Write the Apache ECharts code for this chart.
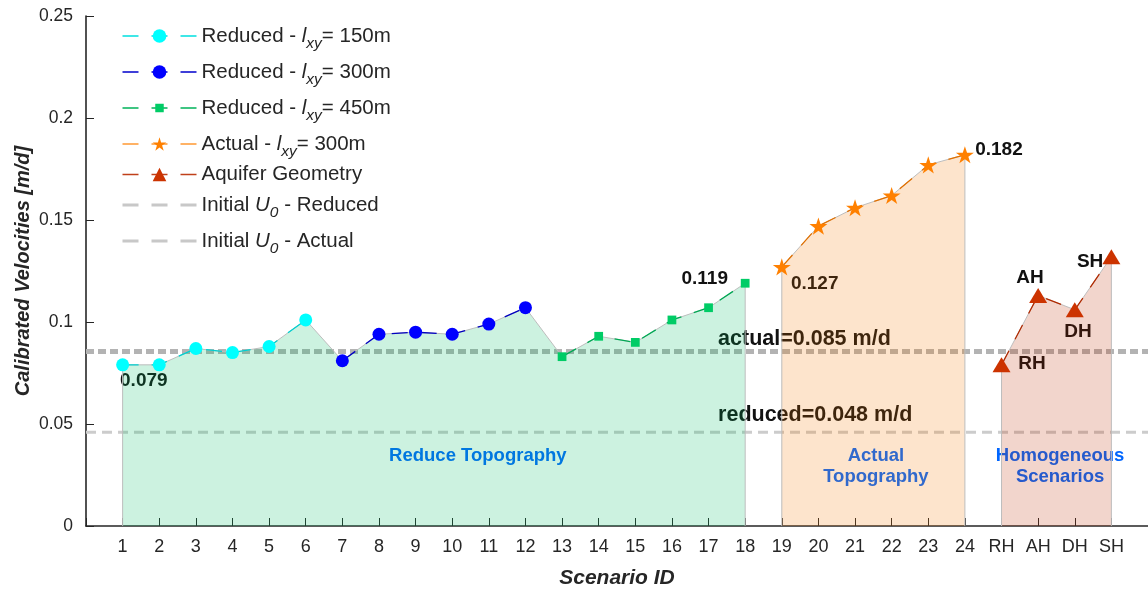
<!DOCTYPE html>
<html><head><meta charset="utf-8">
<script src="https://cdn.jsdelivr.net/npm/echarts@6/dist/echarts.min.js"></script>
<style>html,body{margin:0;padding:0;background:#fff}#c{width:1148px;height:589px}</style>
</head><body><div id="c"></div>
<script>
// ---------- data ----------
const categories = ['1','2','3','4','5','6','7','8','9','10','11','12','13','14','15','16','17','18',
  '19','20','21','22','23','24','RH','AH','DH','SH'];
const reduced150Ids = ['1','2','3','4','5','6'];
const reduced150 = [0.079, 0.079, 0.087, 0.085, 0.088, 0.101];
const reduced300Ids = ['7','8','9','10','11','12'];
const reduced300 = [0.081, 0.094, 0.095, 0.094, 0.099, 0.107];
const reduced450Ids = ['13','14','15','16','17','18'];
const reduced450 = [0.083, 0.093, 0.090, 0.101, 0.107, 0.119];
const actual300Ids = ['19','20','21','22','23','24'];
const actual300 = [0.127, 0.147, 0.156, 0.162, 0.177, 0.182];
const geometryIds = ['RH','AH','DH','SH'];
const geometry = [0.079, 0.113, 0.106, 0.132];
const initialU0Reduced = 0.046;
const initialU0Actual = 0.0855;
const yTicks = [0, 0.05, 0.1, 0.15, 0.2, 0.25];

// ---------- helpers ----------
const pos = id => categories.indexOf(id) + 1;
const pts = (ids, vals) => ids.map((id, i) => [pos(id), vals[i]]);
const areaPts = (ids, vals) => {
  const p = pts(ids, vals);
  return [[p[0][0], 0], ...p, [p[p.length - 1][0], 0]];
};
function starPath() {
  const p = [];
  for (let i = 0; i < 10; i++) {
    const r = i % 2 ? 0.382 : 1;
    const a = -Math.PI / 2 + i * Math.PI / 5;
    p.push((r * Math.cos(a)).toFixed(3) + ',' + (r * Math.sin(a)).toFixed(3));
  }
  return 'path://M' + p.join(' L') + ' Z';
}
const STAR = starPath();
// square with transparent padding so the legend icon stays small
const SQUARE = 'path://M0,0 M16,16 M3,3 L13,3 L13,13 L3,13 Z';
const FONT = '"Liberation Sans", Arial, Helvetica, sans-serif';
const TXT = '#262626';
const DASH = [16, 13];

const N150 = 'Reduced - lxy= 150m', N300 = 'Reduced - lxy= 300m', N450 = 'Reduced - lxy= 450m';
const NACT = 'Actual - lxy= 300m', NGEO = 'Aquifer Geometry';
const NU0R = 'Initial U0 - Reduced', NU0A = 'Initial U0 - Actual';
const legendLabels = {
  [N150]: '{n|Reduced - }{i|l}{s|xy}{n|= 150m}',
  [N300]: '{n|Reduced - }{i|l}{s|xy}{n|= 300m}',
  [N450]: '{n|Reduced - }{i|l}{s|xy}{n|= 450m}',
  [NACT]: '{n|Actual - }{i|l}{s|xy}{n|= 300m}',
  [NGEO]: '{m|Aquifer Geometry}',
  [NU0R]: '{n|Initial }{i|U}{s|0}{n| - Reduced}',
  [NU0A]: '{n|Initial }{i|U}{s|0}{n| - Actual}'
};

function markerSeries(name, ids, vals, color, lineColor, symbol, size) {
  return {
    name, type: 'line', data: pts(ids, vals), z: 5,
    symbol, symbolSize: size, symbolKeepAspect: true,
    itemStyle: { color, borderWidth: 0, opacity: 1 },
    lineStyle: { color: lineColor, width: 1.3, type: DASH },
    emphasis: { disabled: true }, animation: false
  };
}
function areaSeries(ids, vals, fill) {
  return {
    type: 'line', data: areaPts(ids, vals), z: 3, symbol: 'none', silent: true,
    lineStyle: { color: '#bdbdbd', width: 1 },
    areaStyle: { color: fill, opacity: 1, origin: 0 },
    emphasis: { disabled: true }, animation: false
  };
}
function refLine(name, v, color, width, dash) {
  return {
    name, type: 'line', data: [[0, v], [29, v]], z: 2, symbol: 'circle', showSymbol: false, silent: true,
    lineStyle: { color, width, type: dash }, itemStyle: { color: 'rgba(0,0,0,0)' },
    emphasis: { disabled: true }, animation: false
  };
}

const lab = (text, x, y, align, extra) => ({
  value: [x, y],
  label: Object.assign({ show: true, formatter: text, align, verticalAlign: 'middle', position: [0, 0],
    fontFamily: FONT, fontWeight: 'bold', fontSize: 19, color: '#111', textBorderWidth: 0, opacity: 1 }, extra || {})
});
const blueLab = { fontSize: 18.5, color: '#0066ff', lineHeight: 21 };
const annotations = [
  lab('0.079', 0.93, 0.0711, 'left'),
  lab('0.119', 17.53, 0.1211, 'right'),
  lab('0.127', 19.25, 0.1186, 'left'),
  lab('0.182', 24.28, 0.1843, 'left'),
  lab('AH', 25.78, 0.1216, 'center'),
  lab('SH', 27.42, 0.1294, 'center'),
  lab('RH', 25.83, 0.0794, 'center'),
  lab('DH', 27.09, 0.0951, 'center'),
  lab('actual=0.085 m/d', 17.26, 0.0917, 'left', { fontSize: 21.5 }),
  lab('reduced=0.048 m/d', 17.26, 0.0544, 'left', { fontSize: 21.5 }),
  lab('Reduce Topography', 10.7, 0.0343, 'center', blueLab),
  lab('Actual\nTopography', 21.57, 0.0294, 'center', blueLab),
  lab('Homogeneous\nScenarios', 26.6, 0.0294, 'center', blueLab)
];

const legItem = (name, lc, w) => ({ name, lineStyle: { color: lc, width: w, type: DASH } });

const option = {
  backgroundColor: '#fff',
  animation: false,
  grid: { left: 86, right: 0, top: 16, bottom: 63, containLabel: false, outerBoundsMode: 'none' },
  legend: {
    orient: 'vertical', left: 121, top: 20, padding: 0, itemWidth: 74, itemHeight: 17, itemGap: 4,
    selectedMode: false,
    data: [
      legItem(N150, '#00e0e0', 1.3), legItem(N300, '#0000cc', 1.3), legItem(N450, '#00b35a', 1.3),
      legItem(NACT, '#ff9933', 1.3), legItem(NGEO, '#c0401a', 1.3),
      legItem(NU0R, '#c8c8c8', 3), legItem(NU0A, '#c8c8c8', 3)
    ],
    formatter: name => legendLabels[name] || name,
    textStyle: {
      color: TXT, fontFamily: FONT, fontSize: 20.5,
      rich: {
        n: { fontSize: 20.5, lineHeight: 20, fontFamily: FONT, color: TXT },
        m: { fontSize: 20.5, lineHeight: 24, fontFamily: FONT, color: TXT },
        i: { fontSize: 20.5, lineHeight: 20, fontStyle: 'italic', fontFamily: FONT, color: TXT },
        s: { fontSize: 15.5, lineHeight: 14, fontStyle: 'italic', fontFamily: FONT, color: TXT, padding: [16, 0, 0, 0] }
      }
    }
  },
  xAxis: {
    type: 'value', min: 0, max: 29, interval: 1,
    axisLine: { show: true, lineStyle: { color: TXT, width: 1.6 } },
    axisTick: { show: true, inside: true, length: 8, lineStyle: { color: TXT, width: 1 } },
    axisLabel: { formatter: v => categories[v - 1] || '', fontSize: 18, color: TXT, fontFamily: FONT, margin: 12,
      showMinLabel: true, showMaxLabel: true, hideOverlap: false },
    splitLine: { show: false },
    name: 'Scenario ID', nameLocation: 'middle', nameGap: 42, nameMoveOverlap: false,
    nameTextStyle: { fontSize: 21, fontWeight: 'bold', fontStyle: 'italic', color: TXT, fontFamily: FONT }
  },
  yAxis: {
    type: 'value', min: yTicks[0], max: yTicks[yTicks.length - 1], interval: 0.05,
    axisLine: { show: true, lineStyle: { color: TXT, width: 1.6 } },
    axisTick: { show: true, inside: true, length: 8, lineStyle: { color: TXT, width: 1 } },
    axisLabel: { fontSize: 17.5, color: TXT, fontFamily: FONT, margin: 13, formatter: v => String(+v.toFixed(2)) },
    splitLine: { show: false },
    name: 'Calibrated Velocities [m/d]', nameLocation: 'middle', nameGap: 53, nameRotate: 90, nameMoveOverlap: false,
    nameTextStyle: { fontSize: 20, fontWeight: 'bold', fontStyle: 'italic', color: TXT, fontFamily: FONT }
  },
  series: [
    { type: 'scatter', data: annotations, symbolSize: 0, z: 1, silent: true, animation: false,
      itemStyle: { opacity: 1 } },
    refLine(NU0R, initialU0Reduced, '#cccccc', 3, [10, 6]),
    refLine(NU0A, initialU0Actual, '#b3b3b3', 5, [8, 4]),
    areaSeries([...reduced150Ids, ...reduced300Ids, ...reduced450Ids],
      [...reduced150, ...reduced300, ...reduced450], 'rgba(0,190,100,0.2)'),
    areaSeries(actual300Ids, actual300, 'rgba(245,120,0,0.2)'),
    areaSeries(geometryIds, geometry, 'rgba(190,45,0,0.2)'),
    markerSeries(N150, reduced150Ids, reduced150, '#00ffff', '#00d0d0', 'circle', 13),
    markerSeries(N300, reduced300Ids, reduced300, '#0000ff', '#0000c0', 'circle', 13),
    markerSeries(N450, reduced450Ids, reduced450, '#00cc66', '#00a854', SQUARE, 14),
    markerSeries(NACT, actual300Ids, actual300, '#ff8000', '#e07000', STAR, 18),
    markerSeries(NGEO, geometryIds, geometry, '#cc3300', '#b02a00', 'triangle', [18, 15])
  ]
};
const chart = echarts.init(document.getElementById('c'), null, { renderer: 'canvas' });
chart.setOption(option);
</script></body></html>
